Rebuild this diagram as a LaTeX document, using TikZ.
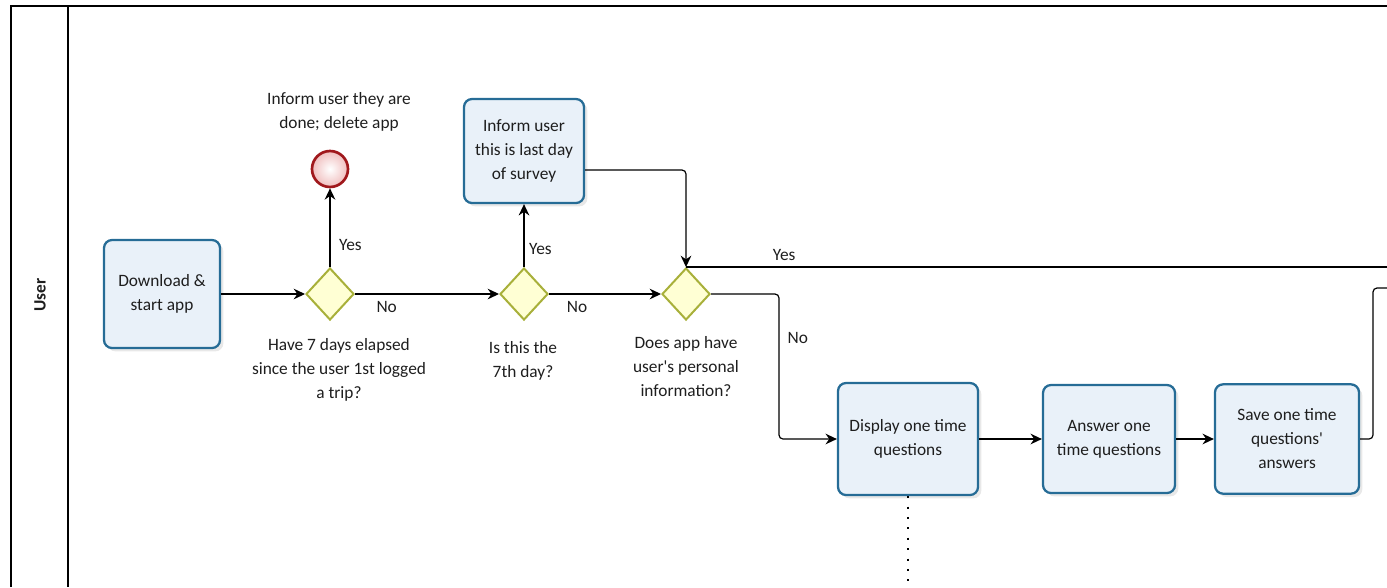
\documentclass[tikz,border=0pt]{standalone}
\usepackage{fontspec}
\setmainfont{Carlito}
\usetikzlibrary{arrows.meta,shapes.geometric,shadows}

\definecolor{taskline}{RGB}{38,108,150}
\definecolor{taskfill}{RGB}{233,241,249}
\definecolor{gateline}{RGB}{168,176,58}
\definecolor{gatefill}{RGB}{255,255,212}
\definecolor{endline}{RGB}{160,24,28}
\definecolor{endfill}{RGB}{240,190,190}
\definecolor{textcol}{RGB}{30,30,30}

\begin{document}
\begin{tikzpicture}[x=0.75pt, y=-0.75pt,
        font=\fontsize{13}{18}\selectfont, text=textcol,
        task/.style={draw=taskline, line width=1.7pt, fill=taskfill, rounded corners=6pt,
            align=center, inner sep=2pt,
            drop shadow={opacity=0.18, shadow xshift=2.5pt, shadow yshift=-2.5pt}},
        gate/.style={diamond, draw=gateline, line width=1.5pt, fill=gatefill,
            minimum width=36pt, minimum height=39pt, inner sep=0pt},
        stopev/.style={circle, draw=endline, line width=2pt, inner color=white, outer color=endfill,
            minimum size=27pt, inner sep=0pt},
        lbl/.style={align=center, inner sep=0pt},
        flow/.style={draw, line width=0.9pt, -{Stealth[length=8.5pt, width=8pt]}},
        line/.style={draw, line width=0.9pt}]

        \useasboundingbox ( 0, 0 ) rectangle ( 1387, 587 );

        % пул и дорожка
        \draw [line width=0.9pt] ( 11, 587 ) -- ( 11, 6 ) -- ( 1387, 6 );
        \draw [line width=0.9pt] ( 68, 6 ) -- ( 68, 587 );
        \node [rotate=90, font=\fontsize{13}{15}\selectfont\bfseries] (lane) at ( 40, 295 ) {User};

        % задачи
        \node [task, minimum width=87pt, minimum height=81pt] (download) at ( 162, 294 ) {Download \&\\start app};
        \node [task, minimum width=90pt, minimum height=78pt] (inform) at ( 524, 151 ) {Inform user\\this is last day\\of survey};
        \node [task, minimum width=105pt, minimum height=84pt] (display) at ( 908, 439 ) {Display one time\\questions};
        \node [task, minimum width=99pt, minimum height=81pt] (answer) at ( 1109, 439 ) {Answer one\\time questions};
        \node [task, minimum width=108pt, minimum height=82pt] (save) at ( 1287, 439 ) {Save one time\\questions\textquotesingle\\answers};

        % шлюзы
        \node [gate] (elapsed) at ( 330, 294 ) {};
        \node [gate] (seventh) at ( 524, 294 ) {};
        \node [gate] (personal) at ( 686, 294 ) {};

        % конец
        \node [stopev] (done) at ( 330, 169 ) {};

        % подписи
        \node [lbl] (donetext) at ( 339, 112 ) {Inform user they are\\done; delete app};
        \node [lbl] (elapsedtext) at ( 339, 370 ) {Have 7 days elapsed\\since the user 1st logged\\a trip?};
        \node [lbl] (seventhtext) at ( 523, 361 ) {Is this the\\7th day?};
        \node [lbl] (personaltext) at ( 686, 367 ) {Does app have\\user\textquotesingle s personal\\information?};

        % точки
        \coordinate (nobend) at ( 779, 294 );
        \coordinate (yesend) at ( 1387, 268 );
        \coordinate (saveend) at ( 1387, 288 );
        \coordinate (dotend) at ( 907, 587 );

        % связи
        \draw [flow] (download) -- (elapsed);
        \draw [flow] (elapsed.north) -- node [right, pos=0.28, xshift=3pt] {Yes} (done);
        \draw [flow] (elapsed) -- node [below, pos=0.22, yshift=-2pt] {No} (seventh);
        \draw [flow] (seventh.north) -- node [right, pos=0.28] {Yes} (inform);
        \draw [flow] (seventh) -- node [below, pos=0.25, yshift=-2pt] {No} (personal);
        \draw [flow, rounded corners=3pt] (inform.east |- 0, 170) -| (personal.north);
        \draw [line] (personal.north) -- node [above, pos=0.14, yshift=1pt] {Yes} (personal.north -| yesend);
        \draw [flow, rounded corners=3pt] (personal.east) -- (nobend) |- (display.west);
        \node [right] (nolabel) at ( 783, 338 ) {No};
        \draw [flow] (display) -- (answer);
        \draw [flow] (answer) -- (save);
        \draw [line, rounded corners=3pt] (save.east) -| ( 1373, 288 ) -- (saveend);
        \draw [line width=1.6pt, dash pattern=on 1.6pt off 6.2pt] (display.south) -- (display.south |- dotend);
    \end{tikzpicture}
\end{document}
